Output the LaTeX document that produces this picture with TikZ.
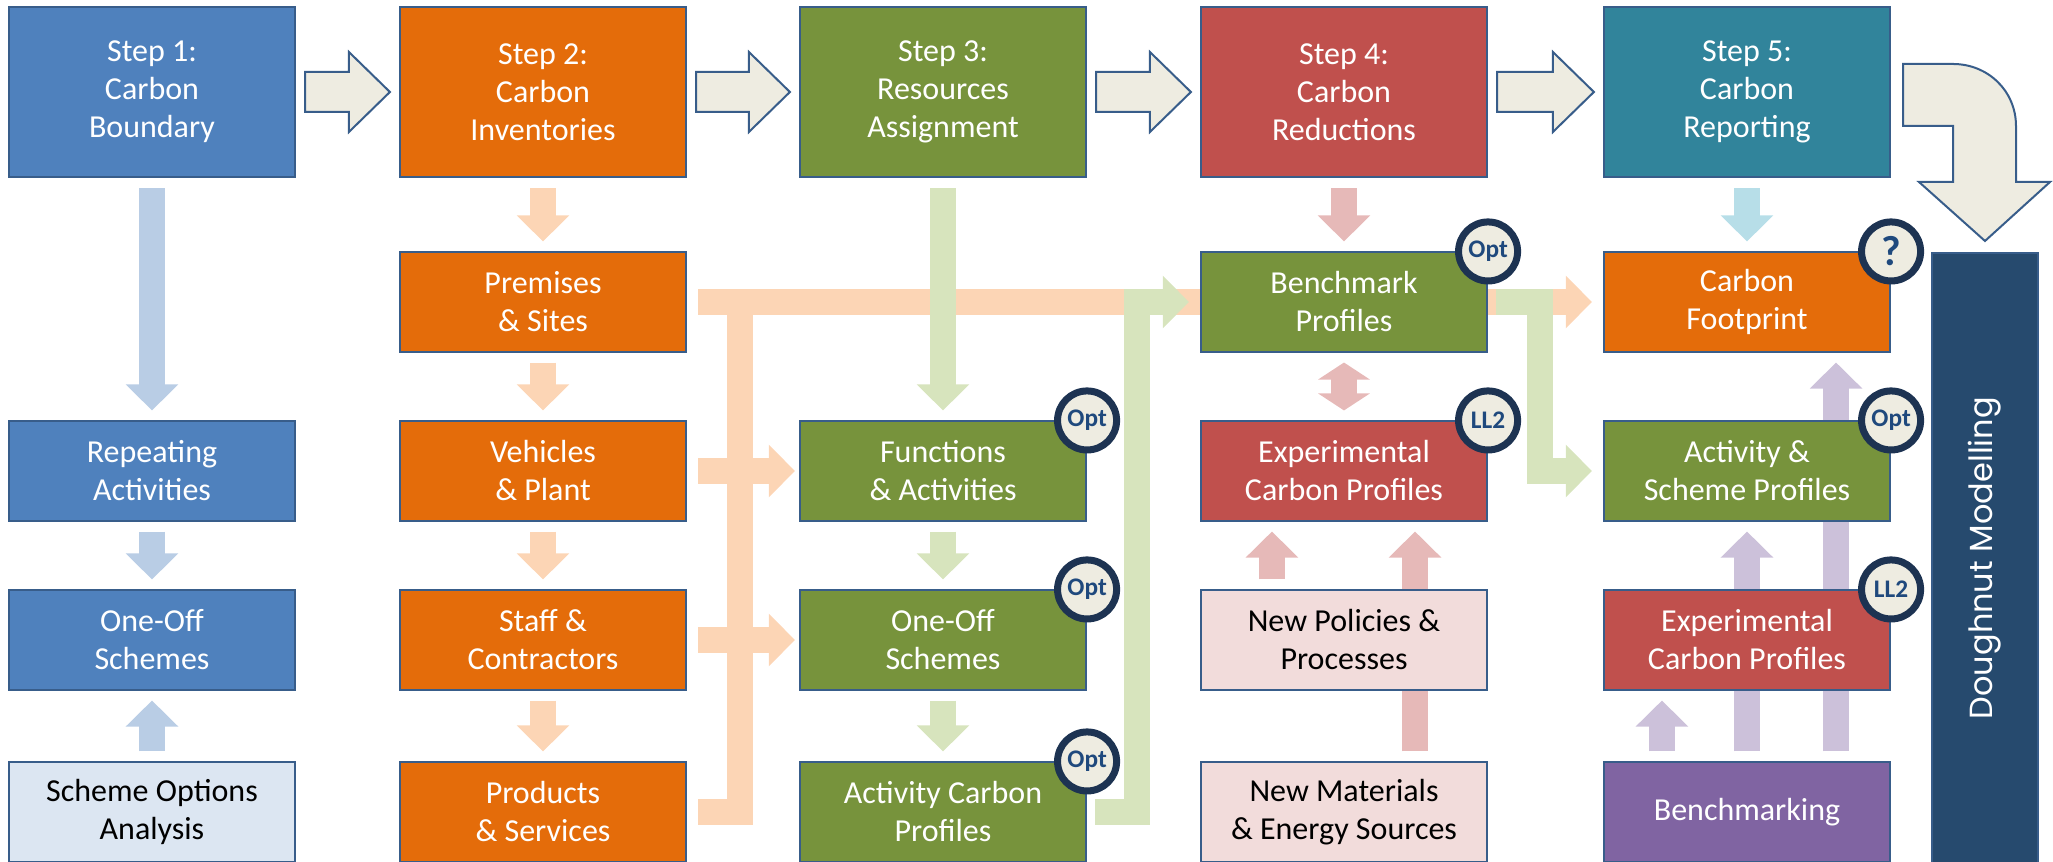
\documentclass[tikz,border=0pt]{standalone}
\usepackage{fontspec}
\setmainfont{Carlito}
\newfontfamily\doughfont{Poppins}
\usetikzlibrary{arrows.meta,calc}
\pgfdeclarelayer{background}
\pgfsetlayers{background,main}

\definecolor{stepblue}{HTML}{4F81BD}
\definecolor{steporange}{HTML}{E46C0A}
\definecolor{stepgreen}{HTML}{77933C}
\definecolor{stepred}{HTML}{C0504D}
\definecolor{stepteal}{HTML}{31849B}
\definecolor{steppurple}{HTML}{8064A2}
\definecolor{paleblue}{HTML}{DCE6F2}
\definecolor{palepink}{HTML}{F2DCDB}
\definecolor{edgeblue}{HTML}{385D8A}
\definecolor{doughblue}{HTML}{264A6E}
\definecolor{arrowgrey}{HTML}{EEECE1}
\definecolor{badgeedge}{HTML}{1D3352}
\definecolor{badgetext}{HTML}{1F497D}
\definecolor{lblue}{HTML}{B9CDE5}
\definecolor{lorange}{HTML}{FCD5B5}
\definecolor{lgreen}{HTML}{D7E4BD}
\definecolor{lred}{HTML}{E6B9B8}
\definecolor{lteal}{HTML}{B7DEE8}
\definecolor{lpurple}{HTML}{CCC1DA}

\tikzset{
  box/.style={draw=edgeblue, line width=0.02cm, minimum width=2.86cm,
              minimum height=0.99cm, inner sep=0pt, align=center, text=white,
              font=\fontsize{9.1}{10.8}\selectfont},
  stepbox/.style={box, minimum height=1.70cm},
  lightbox/.style={box, text=black},
  badge/.style={circle, draw=badgeedge, line width=0.07cm, fill=arrowgrey,
                minimum size=0.59cm, inner sep=0pt, text=badgetext,
                font=\bfseries\fontsize{7.2}{7.2}\selectfont},
  flow/.style={line width=0.26cm, -{Triangle[length=0.26cm,width=0.51cm]},
               shorten <=0.1cm, shorten >=0.1cm},
  bar/.style={line width=0.26cm, line join=miter},
  bartip/.style={-{Triangle[length=0.26cm,width=0.51cm]}},
  bigarrow/.style={fill=arrowgrey, draw=edgeblue, line width=0.02cm, line join=miter},
}

% grey block arrow between two step boxes
\newcommand{\stepjoin}[2]{%
  \draw[bigarrow] ($(#1.east)+(9,-20)$) -- ($(#2.west)+(-50,-20)$) --
                  ($(#2.west)+(-50,-40)$) -- ($(#2.west)+(-9,0)$) --
                  ($(#2.west)+(-50,40)$) -- ($(#2.west)+(-50,20)$) --
                  ($(#1.east)+(9,20)$) -- cycle;}

\begin{document}
\begin{tikzpicture}[x=0.01cm, y=-0.01cm]
\useasboundingbox (0,0) rectangle (2053,862);

% the five steps
\node[stepbox, fill=stepblue] (s1) at (152,92) {Step 1:\\Carbon\\Boundary};
\node[stepbox, fill=steporange] (s2) at (543,92) {Step 2:\\Carbon\\Inventories};
\node[stepbox, fill=stepgreen] (s3) at (943,92) {Step 3:\\Resources\\Assignment};
\node[stepbox, fill=stepred] (s4) at (1344,92) {Step 4:\\Carbon\\Reductions};
\node[stepbox, fill=stepteal] (s5) at (1747,92) {Step 5:\\Carbon\\Reporting};

% column 1
\node[box, fill=stepblue] (rep) at (152,471) {Repeating\\Activities};
\node[box, fill=stepblue] (one1) at (152,640) {One-Off\\Schemes};
\node[lightbox, fill=paleblue] (sch) at (152,812) {Scheme Options\\Analysis};

% column 2
\node[box, fill=steporange] (prem) at (543,302) {Premises\\\& Sites};
\node[box, fill=steporange] (veh) at (543,471) {Vehicles\\\& Plant};
\node[box, fill=steporange] (staff) at (543,640) {Staff \&\\Contractors};
\node[box, fill=steporange] (prod) at (543,812) {Products\\\& Services};

% column 3
\node[box, fill=stepgreen] (func) at (943,471) {Functions\\\& Activities};
\node[box, fill=stepgreen] (one3) at (943,640) {One-Off\\Schemes};
\node[box, fill=stepgreen] (actc) at (943,812) {Activity Carbon\\Profiles};

% column 4
\node[box, fill=stepgreen] (bench) at (1344,302) {Benchmark\\Profiles};
\node[box, fill=stepred] (exp4) at (1344,471) {Experimental\\Carbon Profiles};
\node[lightbox, fill=palepink] (newpol) at (1344,640) {New Policies \&\\Processes};
\node[lightbox, fill=palepink] (newmat) at (1344,812) {New Materials\\\& Energy Sources};

% column 5
\node[box, fill=steporange] (foot) at (1747,302) {Carbon\\Footprint};
\node[box, fill=stepgreen] (actsch) at (1747,471) {Activity \&\\Scheme Profiles};
\node[box, fill=stepred] (exp5) at (1747,640) {Experimental\\Carbon Profiles};
\node[box, fill=steppurple] (bmk) at (1747,812) {Benchmarking};

\node[fill=doughblue, draw=edgeblue, line width=0.02cm, inner sep=0pt, anchor=north,
      minimum width=1.06cm, minimum height=6.10cm, text=white,
      font=\doughfont\fontsize{9.1}{10.8}\selectfont] (dough) at (1985,252)
      {\rotatebox{90}{Doughnut Modelling}};

\coordinate (obus) at (740,0);
\coordinate (gbus) at (1137,0);
\coordinate (gbus2) at (1540,0);

\begin{pgfonlayer}{background}
% orange feeders
\draw[bar, lorange] ([xshift=0.11cm]prod.east) -| (obus |- prem.east);
\draw[bar, lorange] ([xshift=0.11cm]staff.east) -- (obus |- staff.east);
\draw[bar, bartip, lorange] ([xshift=0.11cm]prem.east) -- ([xshift=-0.11cm]foot.west);
\draw[bar, bartip, lorange, shorten >=0.04cm] ([xshift=0.11cm]veh.east) -- (func.west);
\draw[bar, bartip, lorange, shorten >=0.04cm] ([xshift=0.11cm]staff.east) -- (one3.west);

% green links
\draw[flow, lgreen] (s3) -- (func);
\draw[flow, lgreen] (func) -- (one3);
\draw[flow, lgreen] (one3) -- (actc);
\draw[bar, bartip, lgreen] ([xshift=0.08cm]actc.east) -| (gbus |- bench.west) -- ([xshift=-0.11cm]bench.west);
\draw[bar, bartip, lgreen] ([xshift=0.08cm]bench.east) -| (gbus2 |- actsch.west) -- ([xshift=-0.11cm]actsch.west);

% blue links
\draw[flow, lblue] (s1) -- (rep);
\draw[flow, lblue] (rep) -- (one1);
\draw[flow, lblue] (sch) -- (one1);

% orange links
\draw[flow, lorange] (s2) -- (prem);
\draw[flow, lorange] (prem) -- (veh);
\draw[flow, lorange] (veh) -- (staff);
\draw[flow, lorange] (staff) -- (prod);

% red links
\draw[flow, lred] (s4) -- (bench);
\draw[flow, lred, {Triangle[length=0.17cm,width=0.51cm]}-{Triangle[length=0.17cm,width=0.51cm]}] (bench) -- (exp4);
\draw[flow, lred] ([xshift=-0.72cm]newpol.north) -- ([xshift=-0.72cm]exp4.south);
\draw[flow, lred] ([xshift=0.71cm]newmat.north) -- ([xshift=0.71cm]exp4.south);

% teal and purple links
\draw[flow, lteal] (s5) -- (foot);
\draw[flow, lpurple] ([xshift=-0.85cm]bmk.north) -- ([xshift=-0.85cm]exp5.south);
\draw[flow, lpurple] (bmk) -- (actsch);
\draw[flow, lpurple] ([xshift=0.89cm]bmk.north) -- ([xshift=0.89cm]foot.south);
\end{pgfonlayer}

% grey arrows along the steps
\stepjoin{s1}{s2}
\stepjoin{s2}{s3}
\stepjoin{s3}{s4}
\stepjoin{s4}{s5}
\draw[bigarrow] ($(s5.east)+(12,-28)$) -- (1953,64) .. controls (1988,64) and (2016,91) ..
                (2016,126) -- (2016,182) -- (2050,182) -- (dough.north |- 0,241) --
                (1919,182) -- (1953,182) -- (1953,126) -- ($(s5.east)+(12,34)$) -- cycle;

% badges
\node[badge] (bbench) at (bench.north east) {Opt};
\node[badge, font=\bfseries\fontsize{12}{12}\selectfont] (bfoot) at (foot.north east) {?};
\node[badge] (bfunc) at (func.north east) {Opt};
\node[badge] (bone3) at (one3.north east) {Opt};
\node[badge] (bactc) at (actc.north east) {Opt};
\node[badge] (bexp4) at (exp4.north east) {LL2};
\node[badge] (bactsch) at (actsch.north east) {Opt};
\node[badge] (bexp5) at (exp5.north east) {LL2};

\end{tikzpicture}
\end{document}
